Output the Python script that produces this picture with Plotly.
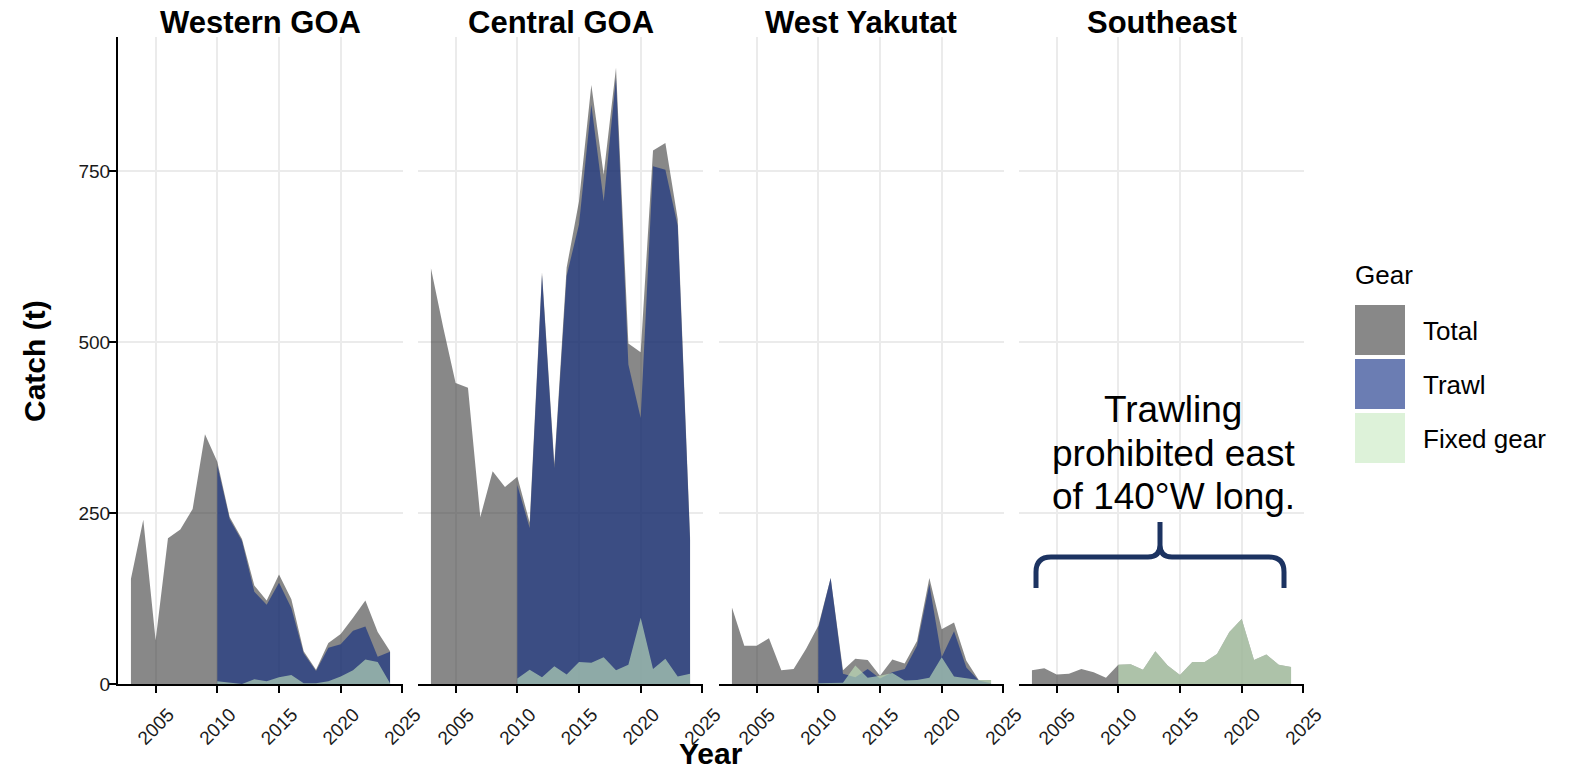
import plotly.graph_objects as go

W, H = 1578, 770

# ---------------- data ----------------
years = list(range(2003, 2025))
gear_years = list(range(2010, 2025))
areas = ["Western GOA", "Central GOA", "West Yakutat", "Southeast"]

total_western = [154, 240, 64, 213, 226, 256, 365, 325, 244, 212, 144, 122, 160, 124, 48, 21, 60, 73, 97, 122, 76, 48]
trawl_western = [320, 241, 209, 135, 116, 148, 111, 45, 19, 53, 58, 78, 84, 40, 47]
fixed_western = [4, 2, 0, 7, 4, 10, 13, 1, 1, 4, 11, 20, 36, 32, 1]

total_central = [608, 521, 440, 433, 244, 311, 288, 303, 236, 602, 322, 609, 706, 876, 745, 901, 498, 485, 780, 791, 680, 215]
trawl_central = [291, 228, 598, 316, 597, 672, 847, 706, 886, 467, 389, 757, 752, 670, 210]
fixed_central = [8, 21, 10, 26, 14, 32, 31, 39, 20, 28, 97, 22, 37, 11, 15]

total_yakutat = [112, 56, 56, 67, 20, 22, 51, 85, 155, 20, 37, 35, 12, 36, 30, 63, 155, 80, 90, 34, 6, 6]
trawl_yakutat = [82, 155, 15, 10, 22, 8, 17, 22, 56, 146, 39, 77, 24, 5, 1]
fixed_yakutat = [1, 1, 2, 27, 9, 12, 16, 5, 6, 9, 39, 11, 9, 6, 6]

total_southeast = [20, 23, 14, 15, 22, 17, 9, 28, 29, 21, 48, 27, 13, 32, 32, 44, 76, 95, 35, 43, 28, 25]
trawl_southeast = None
fixed_southeast = [28, 29, 21, 48, 27, 13, 32, 32, 44, 76, 95, 35, 43, 28, 25]

totals = [total_western, total_central, total_yakutat, total_southeast]
trawls = [trawl_western, trawl_central, trawl_yakutat, trawl_southeast]
fixeds = [fixed_western, fixed_central, fixed_yakutat, fixed_southeast]

gear_names = ["Total", "Trawl", "Fixed gear"]
x_ticks = [2005, 2010, 2015, 2020, 2025]
y_ticks = [0, 250, 500, 750]

# ---------------- style ----------------
FONT = "Liberation Sans, Arial, sans-serif"
C_TOTAL = "rgba(57,57,57,0.6)"
C_TRAWL = "rgba(8,38,128,0.6)"
C_FIXED = "rgba(199,233,192,0.6)"
GEAR_COLORS = [C_TOTAL, C_TRAWL, C_FIXED]
GRID = "#ebebeb"
BRACE = "#1c3361"

panel_px = [(118, 403), (418, 703), (719, 1004), (1019, 1304)]
top_px, bot_px = 37, 684


def px(x):
    return x / W


def py(y):
    return 1 - y / H


fig = go.Figure()

for i, area in enumerate(areas):
    sfx = "" if i == 0 else str(i + 1)
    xa, ya = "x" + sfx, "y" + sfx
    fig.add_trace(go.Scatter(x=years, y=totals[i], mode="lines", fill="tozeroy",
                             fillcolor=C_TOTAL, line=dict(width=0, color=C_TOTAL),
                             name="Total", showlegend=False, hoverinfo="x+y",
                             xaxis=xa, yaxis=ya))
    if trawls[i] is not None:
        fig.add_trace(go.Scatter(x=gear_years, y=trawls[i], mode="lines", fill="tozeroy",
                                 fillcolor=C_TRAWL, line=dict(width=0, color=C_TRAWL),
                                 name="Trawl", showlegend=False, hoverinfo="x+y",
                                 xaxis=xa, yaxis=ya))
    if fixeds[i] is not None:
        fig.add_trace(go.Scatter(x=gear_years, y=fixeds[i], mode="lines", fill="tozeroy",
                                 fillcolor=C_FIXED, line=dict(width=0, color=C_FIXED),
                                 name="Fixed gear", showlegend=False, hoverinfo="x+y",
                                 xaxis=xa, yaxis=ya))

layout = dict(
    width=W, height=H,
    margin=dict(l=0, r=0, t=0, b=0),
    paper_bgcolor="white", plot_bgcolor="white",
    font=dict(family=FONT, color="black"),
    showlegend=False,
)

ydom = [py(bot_px), py(top_px)]
for i, (l, r) in enumerate(panel_px):
    sfx = "" if i == 0 else str(i + 1)
    layout["xaxis" + sfx] = dict(
        domain=[px(l), px(r)], range=[2001.95, 2025.05],
        anchor="y" + sfx, tickvals=x_ticks, ticktext=[str(t) for t in x_ticks],
        tickangle=-45, tickfont=dict(size=19, color="#1a1a1a", family=FONT),
        ticklabelshift=13, ticklabelstandoff=3,
        showline=True, linecolor="black", linewidth=2,
        ticks="outside", ticklen=7, tickwidth=2, tickcolor="black",
        showgrid=True, gridcolor=GRID, gridwidth=2, zeroline=False,
        automargin=False, fixedrange=True,
    )
    ya = dict(
        domain=ydom, range=[0, 946], anchor="x" + sfx,
        tickvals=y_ticks, showgrid=True, gridcolor=GRID, gridwidth=2,
        zeroline=False, automargin=False, fixedrange=True,
    )
    if i == 0:
        ya.update(showline=True, linecolor="black", linewidth=2, ticks="outside",
                  ticklen=7, tickwidth=2, tickcolor="black", ticklabelstandoff=-5,
                  tickfont=dict(size=19, color="#1a1a1a", family=FONT))
    else:
        ya.update(showline=False, showticklabels=False, ticks="", matches="y")
    layout["yaxis" + sfx] = ya

fig.update_layout(**layout)

annotations = []
# panel titles
for (l, r), area in zip(panel_px, areas):
    annotations.append(dict(x=px((l + r) / 2), y=py(22), xref="paper", yref="paper",
                            text=area, showarrow=False, xanchor="center", yanchor="middle",
                            font=dict(size=31, family=FONT, weight="bold", color="black")))
# axis titles
annotations.append(dict(x=px(34), y=py(361), xref="paper", yref="paper", text="Catch (t)",
                        textangle=-90, showarrow=False, xanchor="center", yanchor="middle",
                        font=dict(size=30, family=FONT, weight="bold", color="black")))
annotations.append(dict(x=px(711), y=py(753), xref="paper", yref="paper", text="Year",
                        showarrow=False, xanchor="center", yanchor="middle",
                        font=dict(size=30, family=FONT, weight="bold", color="black")))
# note text
for txt, yy in [("Trawling", 410), ("prohibited east", 453), ("of 140°W long.", 496)]:
    annotations.append(dict(x=px(1173), y=py(yy), xref="paper", yref="paper", text=txt,
                            showarrow=False, xanchor="center", yanchor="middle",
                            font=dict(size=37, family=FONT, color="black")))

# manual legend
annotations.append(dict(x=px(1353), y=py(275), xref="paper", yref="paper", text="Gear",
                        showarrow=False, xanchor="left", yanchor="middle",
                        font=dict(size=26, family=FONT, color="black")))
shapes = []
key_top = [305, 359, 413]
for name, col, kt in zip(gear_names, GEAR_COLORS, key_top):
    shapes.append(dict(type="rect", xref="paper", yref="paper",
                       x0=px(1355), x1=px(1405), y0=py(kt + 50), y1=py(kt),
                       fillcolor=col, line=dict(width=0), layer="above"))
    annotations.append(dict(x=px(1421), y=py(kt + 26), xref="paper", yref="paper", text=name,
                            showarrow=False, xanchor="left", yanchor="middle",
                            font=dict(size=26, family=FONT, color="black")))


# brace
def P(x, y):
    return f"{px(x):.5f},{py(y):.5f}"


path = ("M " + P(1036, 588) + " L " + P(1036, 572) + " Q " + P(1036, 557) + " " + P(1051, 557)
        + " L " + P(1148, 557) + " Q " + P(1160, 557) + " " + P(1160, 545)
        + " L " + P(1160, 522) + " M " + P(1160, 545) + " Q " + P(1160, 557) + " " + P(1172, 557)
        + " L " + P(1269, 557) + " Q " + P(1284, 557) + " " + P(1284, 572)
        + " L " + P(1284, 588))
shapes.append(dict(type="path", xref="paper", yref="paper", path=path,
                   line=dict(color=BRACE, width=5), layer="above"))

fig.update_layout(annotations=annotations, shapes=shapes)
fig.write_html("out.html", config={"displayModeBar": False},
               post_script="document.body.style.margin='0px';document.body.style.overflow='hidden';")
